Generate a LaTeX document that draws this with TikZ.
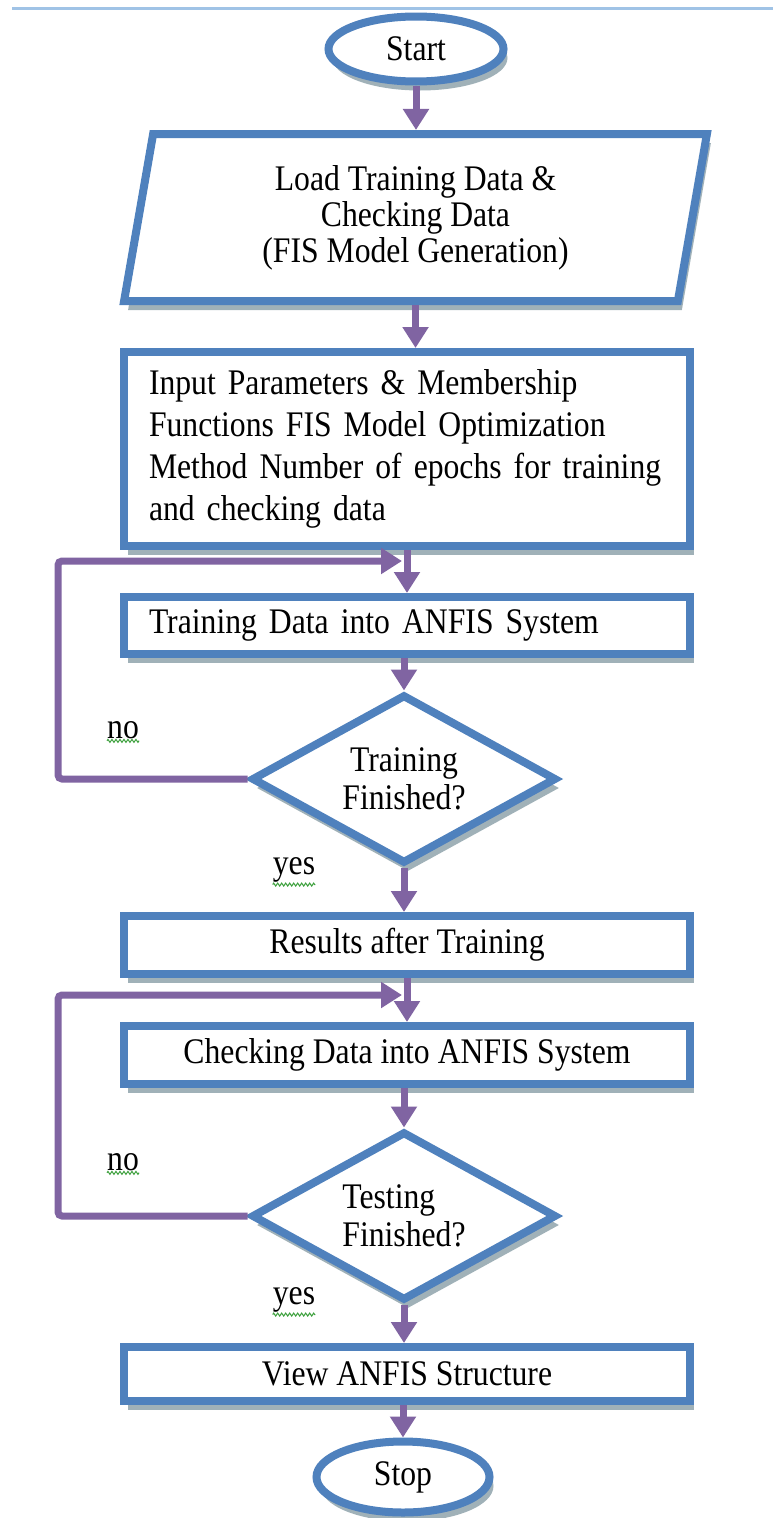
\documentclass[tikz,border=0pt]{standalone}
\usepackage{fontspec}
\setmainfont{Liberation Serif}[FakeStretch=0.88]
\usetikzlibrary{shapes.geometric,arrows.meta,shadows,decorations.pathmorphing}
\definecolor{bblue}{RGB}{79,129,189}
\definecolor{fpurple}{RGB}{128,100,162}
\definecolor{shade}{RGB}{120,145,155}
\definecolor{topline}{RGB}{160,195,230}
\definecolor{squig}{RGB}{60,160,60}
\begin{document}
\begin{tikzpicture}[x=1pt,y=-1pt,
  shapebox/.style={draw=bblue, line width=8pt, fill=white,
    drop shadow={shadow xshift=4pt, shadow yshift=-9pt, fill=shade, opacity=0.7},
    font=\fontsize{36}{38}\selectfont, inner sep=0pt},
  procbox/.style={shapebox, rectangle, minimum width=566pt},
  flow/.style={draw=fpurple, line width=7pt, -{Triangle[width=25pt,length=21pt]}},
  loopline/.style={flow, rounded corners=4pt},
  lbl/.style={font=\fontsize{36}{38}\selectfont, inner sep=0pt},
  squiggle/.style={draw=squig, line width=1pt, decorate,
    decoration={zigzag, segment length=4pt, amplitude=1.5pt}}]
\useasboundingbox (0,0) rectangle (773,1518);
\fill[white] (0,0) rectangle (773,1518);

\coordinate (tl) at (12,8);
\coordinate (tr) at (773,8);
\draw[topline, line width=3pt] (tl) -- (tr);

\node[shapebox, ellipse, minimum width=175pt, minimum height=65pt] (start) at (416,49) {Start};

\node[shapebox, trapezium, trapezium left angle=80.8, trapezium right angle=99.2,
  trapezium stretches=true, minimum width=585pt, minimum height=167pt,
  align=center, font=\fontsize{36}{36}\selectfont] (load) at (415.5,217.5)
  {Load Training Data \&\\Checking Data\\(FIS Model Generation)};

\node[procbox, minimum height=194pt, text width=516pt, align=left,
  font=\fontsize{36}{42}\selectfont] (params) at (407,449)
  {Input Parameters \& Membership\\Functions FIS Model Optimization\\Method Number of epochs for training\\and checking data};

\node[procbox, minimum height=57pt, text width=516pt, align=left] (train) at (407,625.5)
  {Training Data into ANFIS System};

\node[shapebox, diamond, aspect=1.8, minimum width=305pt, minimum height=169pt,
  align=center] (d1) at (404,779) {Training\\Finished?};

\node[procbox, minimum height=58pt] (results) at (407,945) {Results after Training};

\node[procbox, minimum height=58pt] (check) at (407,1055) {Checking Data into ANFIS System};

\node[shapebox, diamond, aspect=1.8, minimum width=305pt, minimum height=169pt,
  align=left] (d2) at (404,1216) {Testing\\Finished?};

\node[procbox, minimum height=54pt] (view) at (407,1374) {View ANFIS Structure};

\node[shapebox, ellipse, minimum width=173pt, minimum height=71pt] (stop) at (403,1477) {Stop};

% connectors
\draw[flow] (start.south) -- (start.south |- load.north);
\draw[flow] (load.south) -- (load.south |- params.north);
\draw[flow] (params.south) -- (train.north);
\draw[flow] (d1.north |- train.south) -- (d1.north);
\draw[flow] (d1.south) -- (d1.south |- results.north);
\draw[flow] (results.south) -- (check.north);
\draw[flow] (d2.north |- check.south) -- (d2.north);
\draw[flow] (d2.south) -- (d2.south |- view.north);
\draw[flow] (stop.north |- view.south) -- (stop.north);

\coordinate (l1corner) at (58,561);
\coordinate (l1end) at (402,561);
\draw[loopline] (d1.west) -| (l1corner) -- (l1end);
\coordinate (l2corner) at (58,995);
\coordinate (l2end) at (402,995);
\draw[loopline] (d2.west) -| (l2corner) -- (l2end);

% labels
\node[lbl] (no1) at (123,730) {no};
\node[lbl] (yes1) at (294,870) {yes};
\node[lbl] (no2) at (123,1162) {no};
\node[lbl] (yes2) at (294,1300) {yes};
\draw[squiggle] ([yshift=-2pt]no1.south west) -- ([yshift=-2pt]no1.south east);
\draw[squiggle] ([yshift=-2pt]yes1.south west) -- ([yshift=-2pt]yes1.south east);
\draw[squiggle] ([yshift=-2pt]no2.south west) -- ([yshift=-2pt]no2.south east);
\draw[squiggle] ([yshift=-2pt]yes2.south west) -- ([yshift=-2pt]yes2.south east);
\end{tikzpicture}
\end{document}
